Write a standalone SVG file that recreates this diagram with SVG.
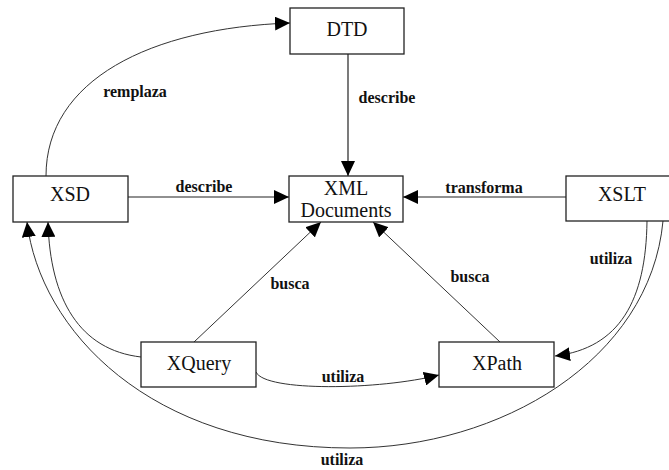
<svg xmlns="http://www.w3.org/2000/svg" width="669" height="470" viewBox="0 0 669 470">
  <style>
    .box { fill: #ffffff; stroke: #222222; stroke-width: 1.3; }
    .name { font-family: "Liberation Serif", "Times New Roman", serif; font-size: 20px; fill: #111111; text-anchor: middle; }
    .edge { fill: none; stroke: #222222; stroke-width: 1.2; }
    .curve { fill: none; stroke: #333333; stroke-width: 1; }
    .lbl { font-family: "Liberation Serif", "Times New Roman", serif; font-size: 16px; font-weight: bold; fill: #111111; text-anchor: middle; }
  </style>
  <defs>
    <marker id="arrow" markerUnits="userSpaceOnUse" markerWidth="16" markerHeight="14" refX="15" refY="7" orient="auto">
      <path d="M0,0 L15,7 L0,14 Z" fill="#000000"/>
    </marker>
  </defs>
  <rect width="669" height="470" fill="#ffffff"/>

  <g id="connectors">
    <!-- DTD describe XML -->
    <line class="edge" x1="348" y1="54" x2="348" y2="176" marker-end="url(#arrow)"/>
    <!-- XSD describe XML -->
    <line class="edge" x1="128" y1="197" x2="289" y2="197" marker-end="url(#arrow)"/>
    <!-- XSLT transforma XML -->
    <line class="edge" x1="566" y1="197" x2="403" y2="197" marker-end="url(#arrow)"/>
    <!-- XQuery busca XML -->
    <line class="curve" x1="194" y1="342" x2="321" y2="222" marker-end="url(#arrow)"/>
    <!-- XPath busca XML -->
    <line class="curve" x1="500" y1="342" x2="373" y2="222" marker-end="url(#arrow)"/>
    <!-- XSD remplaza DTD -->
    <path class="curve" d="M46,176 C46,80 150,28 290,23" marker-end="url(#arrow)"/>
    <!-- XQuery utiliza XPath -->
    <path class="curve" d="M256,372 C265,392 380,390 439,375" marker-end="url(#arrow)"/>
    <!-- XQuery utiliza XSD -->
    <path class="curve" d="M141,357 C80,350 50,300 48,222" marker-end="url(#arrow)"/>
    <!-- XSLT utiliza XPath -->
    <path class="curve" d="M647,221 C646,300 620,348 555,356" marker-end="url(#arrow)"/>
    <!-- XSLT utiliza XSD -->
    <path class="curve" d="M663,221 C650,360 500,448 350,448 C150,448 40,330 27,222" marker-end="url(#arrow)"/>

    <text class="lbl" x="387" y="103">describe</text>
    <text class="lbl" x="204" y="192">describe</text>
    <text class="lbl" x="484" y="193">transforma</text>
    <text class="lbl" x="135" y="97">remplaza</text>
    <text class="lbl" x="290" y="289">busca</text>
    <text class="lbl" x="470" y="282">busca</text>
    <text class="lbl" x="343" y="382">utiliza</text>
    <text class="lbl" x="611" y="264">utiliza</text>
    <text class="lbl" x="342" y="465">utiliza</text>
  </g>

  <g id="dtd">
    <rect class="box" x="290" y="8" width="114" height="46"/>
    <text class="name" x="347" y="36">DTD</text>
  </g>
  <g id="xml-documents">
    <rect class="box" x="289" y="176" width="114" height="46"/>
    <text class="name" x="346" y="195">XML</text>
    <text class="name" x="346" y="217">Documents</text>
  </g>
  <g id="xsd">
    <rect class="box" x="13" y="176" width="115" height="46"/>
    <text class="name" x="70" y="201">XSD</text>
  </g>
  <g id="xslt">
    <rect class="box" x="566" y="176" width="114" height="45"/>
    <text class="name" x="622" y="201">XSLT</text>
  </g>
  <g id="xquery">
    <rect class="box" x="141" y="342" width="115" height="45"/>
    <text class="name" x="199" y="370">XQuery</text>
  </g>
  <g id="xpath">
    <rect class="box" x="439" y="342" width="115" height="45"/>
    <text class="name" x="497" y="370">XPath</text>
  </g>
</svg>
